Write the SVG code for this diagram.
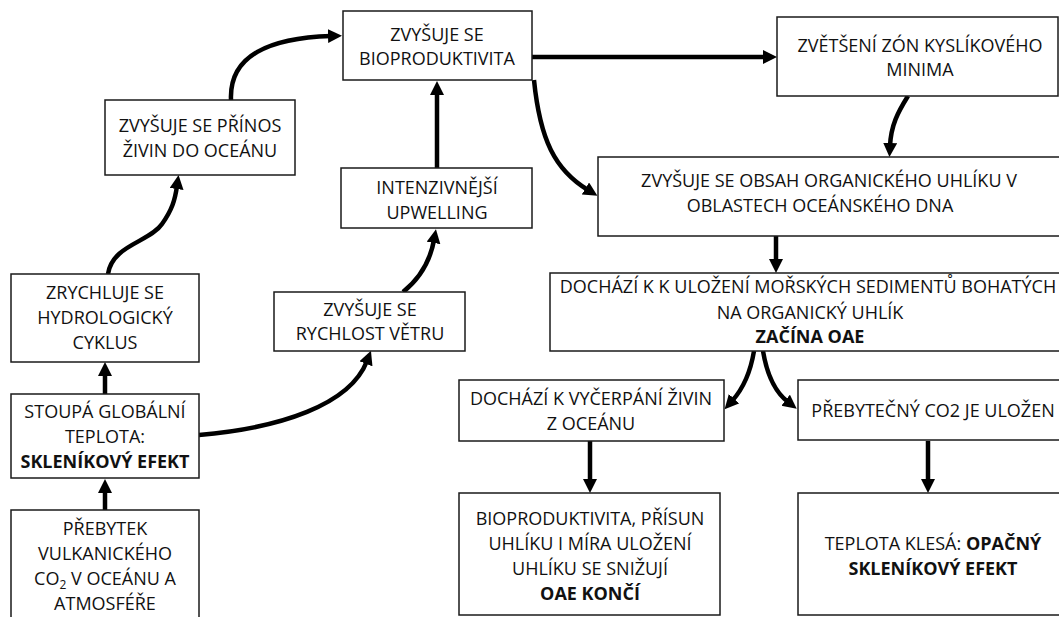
<svg xmlns="http://www.w3.org/2000/svg" width="1059" height="617" viewBox="0 0 1059 617">
<style>
.box{fill:#fff;stroke:#1a1a1a;stroke-width:1.5}
.t{font-family:"Open Sans","Noto Sans","Liberation Sans",sans-serif;font-size:18px;fill:#111;text-anchor:middle}
.b{font-weight:bold}
.c{fill:none;stroke:#000;stroke-width:4.5;marker-end:url(#ah)}
</style>
<defs>
<marker id="ah" markerUnits="userSpaceOnUse" markerWidth="15" markerHeight="15" refX="3" refY="7" orient="auto">
<path d="M0,0 L14,7 L0,14 z" fill="#000"/>
</marker>
</defs>
<rect width="1059" height="617" fill="#fff"/>

<g id="connectors">
<path class="c" d="M105,510 L105,490"/>
<path class="c" d="M105,394 L105,373"/>
<path class="c" d="M108,274 C112,245 150,242 162,224 C172,210 175,200 177,186"/>
<path class="c" d="M231,100 C229,55 270,38 331,36"/>
<path class="c" d="M437,168 L437,92"/>
<path class="c" d="M403,292 C418,280 430,262 434,240"/>
<path class="c" d="M199,435 C280,428 350,405 367,361"/>
<path class="c" d="M532,57 L766,57"/>
<path class="c" d="M534,80 C540,140 555,170 588,190"/>
<path class="c" d="M908,96 C898,112 891,125 890,146"/>
<path class="c" d="M776,236 L776,262"/>
<path class="c" d="M754,351 C750,375 742,390 732,401"/>
<path class="c" d="M763,351 C767,375 775,392 788,402"/>
<path class="c" d="M590,441 L590,482"/>
<path class="c" d="M928,441 L928,482"/>
</g>

<g id="n-prinos">
<rect class="box" x="105" y="100" width="190" height="75"/>
<text class="t" x="200" y="132">ZVYŠUJE SE PŘÍNOS</text>
<text class="t" x="200" y="157">ŽIVIN DO OCEÁNU</text>
</g>

<g id="n-bioprod">
<rect class="box" x="343" y="11" width="189" height="69"/>
<text class="t" x="437" y="41">ZVYŠUJE SE</text>
<text class="t" x="437" y="65">BIOPRODUKTIVITA</text>
</g>

<g id="n-upwelling">
<rect class="box" x="341" y="168" width="191" height="60"/>
<text class="t" x="437" y="194">INTENZIVNĚJŠÍ</text>
<text class="t" x="437" y="219">UPWELLING</text>
</g>

<g id="n-kyslik">
<rect class="box" x="777" y="17" width="281" height="79"/>
<text class="t" x="920" y="52">ZVĚTŠENÍ ZÓN KYSLÍKOVÉHO</text>
<text class="t" x="920" y="76">MINIMA</text>
</g>

<g id="n-obsah">
<rect class="box" x="598" y="157" width="470" height="79"/>
<text class="t" x="829" y="187">ZVYŠUJE SE OBSAH ORGANICKÉHO UHLÍKU V</text>
<text class="t" x="820" y="212">OBLASTECH OCEÁNSKÉHO DNA</text>
</g>

<g id="n-ulozeni">
<rect class="box" x="550" y="273" width="520" height="78"/>
<text class="t" x="808" y="293">DOCHÁZÍ K K ULOŽENÍ MOŘSKÝCH SEDIMENTŮ BOHATÝCH</text>
<text class="t" x="810" y="319">NA ORGANICKÝ UHLÍK</text>
<text class="t b" x="810" y="343">ZAČÍNA OAE</text>
</g>

<g id="n-vycerpani">
<rect class="box" x="459" y="380" width="265" height="61"/>
<text class="t" x="591" y="405">DOCHÁZÍ K VYČERPÁNÍ ŽIVIN</text>
<text class="t" x="591" y="430">Z OCEÁNU</text>
</g>

<g id="n-prebytecny">
<rect class="box" x="798" y="380" width="270" height="60"/>
<text class="t" x="933" y="417">PŘEBYTEČNÝ CO2 JE ULOŽEN</text>
</g>

<g id="n-konci">
<rect class="box" x="459" y="493" width="261" height="122"/>
<text class="t" x="590" y="525">BIOPRODUKTIVITA, PŘÍSUN</text>
<text class="t" x="590" y="550">UHLÍKU I MÍRA ULOŽENÍ</text>
<text class="t" x="590" y="575">UHLÍKU SE SNIŽUJÍ</text>
<text class="t b" x="590" y="600">OAE KONČÍ</text>
</g>

<g id="n-klesa">
<rect class="box" x="798" y="493" width="270" height="122"/>
<text class="t" x="933" y="550">TEPLOTA KLESÁ: <tspan class="b">OPAČNÝ</tspan></text>
<text class="t b" x="933" y="575">SKLENÍKOVÝ EFEKT</text>
</g>

<g id="n-hydro">
<rect class="box" x="11" y="274" width="188" height="88"/>
<text class="t" x="105" y="299">ZRYCHLUJE SE</text>
<text class="t" x="105" y="324">HYDROLOGICKÝ</text>
<text class="t" x="105" y="349">CYKLUS</text>
</g>

<g id="n-stoupa">
<rect class="box" x="11" y="394" width="188" height="84"/>
<text class="t" x="105" y="418">STOUPÁ GLOBÁLNÍ</text>
<text class="t" x="105" y="443">TEPLOTA:</text>
<text class="t b" x="105" y="468">SKLENÍKOVÝ EFEKT</text>
</g>

<g id="n-vulkan">
<rect class="box" x="11" y="510" width="188" height="120"/>
<text class="t" x="105" y="535">PŘEBYTEK</text>
<text class="t" x="105" y="560">VULKANICKÉHO</text>
<text class="t" x="105" y="585">CO<tspan font-size="12" dy="4">2</tspan><tspan dy="-4"> V OCEÁNU A</tspan></text>
<text class="t" x="105" y="610">ATMOSFÉŘE</text>
</g>

<g id="n-vitr">
<rect class="box" x="274" y="292" width="191" height="59"/>
<text class="t" x="370" y="316">ZVYŠUJE SE</text>
<text class="t" x="370" y="340">RYCHLOST VĚTRU</text>
</g>
</svg>
